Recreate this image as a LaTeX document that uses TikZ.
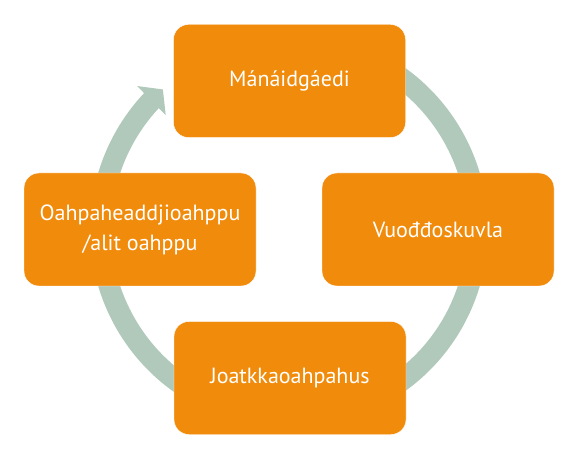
\documentclass[tikz,border=0pt]{standalone}
\usepackage{fontspec}
\setmainfont{PT Sans}
\usetikzlibrary{arrows.meta,bending}
\definecolor{cycleOrange}{RGB}{241,139,11}
\definecolor{ringGreen}{RGB}{177,201,187}
\tikzset{
  stagebox/.style={rectangle, rounded corners=15pt, fill=cycleOrange, draw=white,
    minimum width=232pt, minimum height=113pt, text=white, align=center,
    font=\fontsize{22}{30}\selectfont, inner sep=0pt},
  ringarrow/.style={ringGreen, line width=21pt, -{Triangle[width=40pt,length=16pt]}}
}
\begin{document}
\begin{tikzpicture}[x=1pt,y=1pt]
\useasboundingbox (0,0) rectangle (579,456);
% Ring behind the stages
\coordinate (hub) at (289,226.5);
\draw[ringarrow] (hub) ++(70:188.5) arc[start angle=70, end angle=-228, radius=188.5];

% Stages
\node[stagebox] (kinder) at (289.5,375) {Mánáidgáedi};
\node[stagebox] (basic) at (438,226.5) {Vuođđoskuvla};
\node[stagebox] (further) at (290,78) {Joatkkaoahpahus};
\node[stagebox] (higher) at (140,226.5) {Oahpaheaddjioahppu\\/alit oahppu};
\end{tikzpicture}
\end{document}
